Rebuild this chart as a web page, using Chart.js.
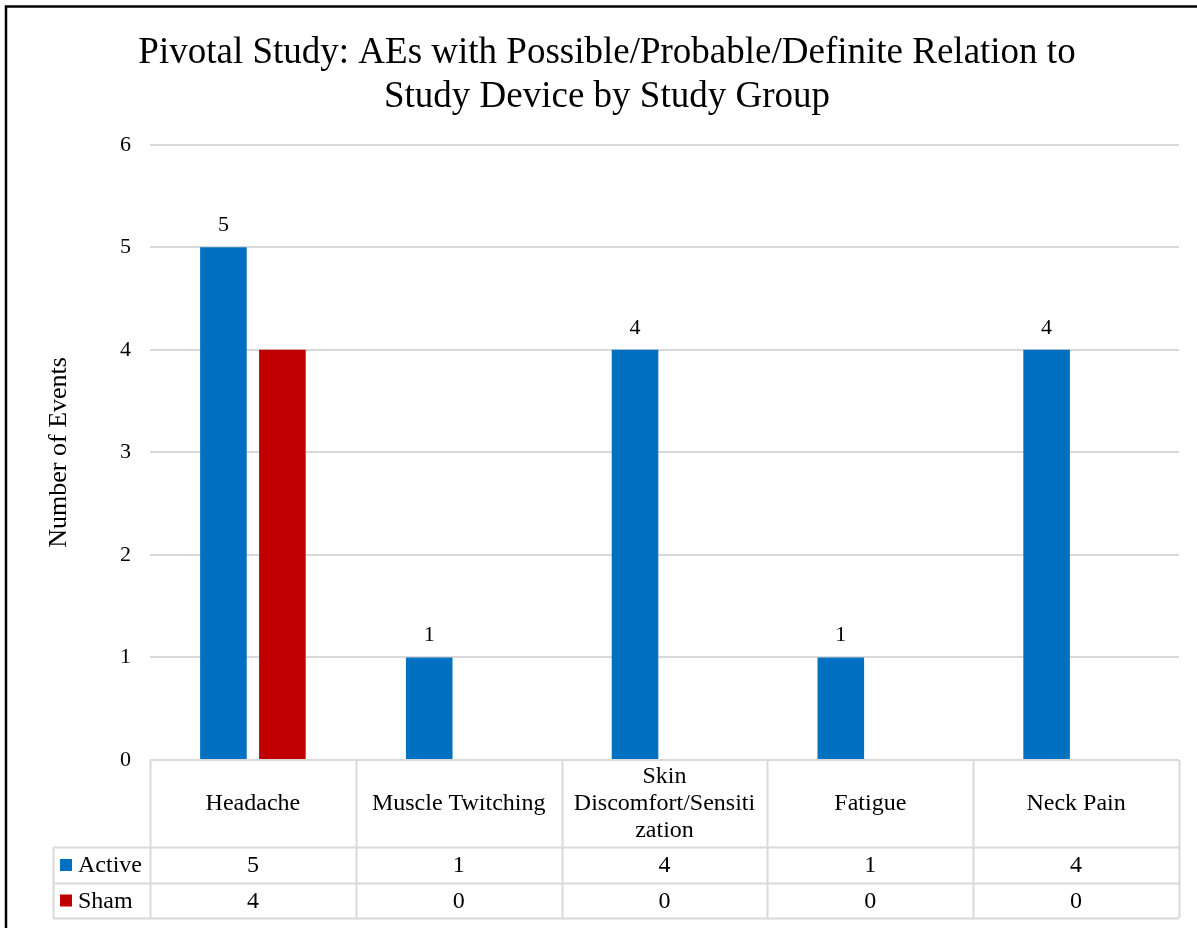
<!DOCTYPE html>
<html><head><meta charset="utf-8">
<script src="https://cdn.jsdelivr.net/npm/chart.js@4"></script>
<style>html,body{margin:0;padding:0;background:#fff}#wrap{width:1197px;height:928px;position:relative}canvas{display:block}</style>
</head><body><div id="wrap"><canvas id="c" width="1197" height="928"></canvas></div>
<script>
const categories = ['Headache', 'Muscle Twitching', ['Skin', 'Discomfort/Sensiti', 'zation'], 'Fatigue', 'Neck Pain'];
const seriesNames = ['Active', 'Sham'];
const activeValues = [5, 1, 4, 1, 4];
const shamValues = [4, 0, 0, 0, 0];
const yMin = 0, yMax = 6, yStep = 1;
const titleLines = ['Pivotal Study: AEs with Possible/Probable/Definite Relation to', 'Study Device by Study Group'];
const yAxisTitle = 'Number of Events';

const BLUE = '#0070C0', RED = '#C00000', GRID = '#d9d9d9';
const SERIF = "'Liberation Serif', 'Times New Roman', serif";

const tablePlugin = {
  id: 'tablePlugin',
  afterDatasetsDraw(chart) {
    const ctx = chart.ctx;
    const x = chart.scales.x;
    const ca = chart.chartArea;
    const n = categories.length;
    const cw = (ca.right - ca.left) / n;
    // data labels for Active
    const meta = chart.getDatasetMeta(0);
    ctx.save();
    ctx.fillStyle = '#000';
    ctx.font = '22px ' + SERIF;
    ctx.textAlign = 'center';
    ctx.textBaseline = 'bottom';
    meta.data.forEach((bar, i) => {
      ctx.fillText(String(activeValues[i]), bar.x, bar.y - 11);
    });
    ctx.restore();

    // table
    const top = ca.bottom;
    const hdrBottom = top + 87;
    const row1Bottom = hdrBottom + 36;
    const row2Bottom = row1Bottom + 35;
    const legendLeft = 53;
    ctx.save();
    ctx.strokeStyle = GRID;
    ctx.lineWidth = 2;
    ctx.beginPath();
    for (let i = 0; i <= n; i++) {
      const px = Math.round(ca.left + i * cw) + 0.5;
      ctx.moveTo(px, top); ctx.lineTo(px, row2Bottom);
    }
    [hdrBottom, row1Bottom, row2Bottom].forEach(yy => {
      ctx.moveTo(legendLeft, yy + 0.5); ctx.lineTo(ca.right, yy + 0.5);
    });
    ctx.moveTo(legendLeft + 0.5, hdrBottom); ctx.lineTo(legendLeft + 0.5, row2Bottom);
    ctx.stroke();

    ctx.fillStyle = '#000';
    ctx.font = '24px ' + SERIF;
    ctx.textAlign = 'center';
    ctx.textBaseline = 'middle';
    categories.forEach((c, i) => {
      const cx = x.getPixelForValue(i);
      const lines = Array.isArray(c) ? c : [c];
      const lh = 27;
      const cy = (top + hdrBottom) / 2;
      lines.forEach((ln, k) => {
        ctx.fillText(ln, cx, cy + (k - (lines.length - 1) / 2) * lh);
      });
      ctx.fillText(String(activeValues[i]), cx, (hdrBottom + row1Bottom) / 2 + 1);
      ctx.fillText(String(shamValues[i]), cx, (row1Bottom + row2Bottom) / 2 + 1);
    });
    // legend keys
    const rows = [[seriesNames[0], BLUE, (hdrBottom + row1Bottom) / 2], [seriesNames[1], RED, (row1Bottom + row2Bottom) / 2]];
    rows.forEach(([name, col, cy]) => {
      ctx.fillStyle = col;
      ctx.fillRect(60, cy - 6, 12, 12);
      ctx.fillStyle = '#000';
      ctx.textAlign = 'left';
      ctx.fillText(name, 78, cy + 1);
    });
    ctx.restore();
  },
  afterDraw(chart) {
    const ctx = chart.ctx;
    ctx.save();
    ctx.strokeStyle = '#000';
    ctx.lineWidth = 2.5;
    ctx.beginPath();
    ctx.moveTo(6, 928); ctx.lineTo(6, 6.5); ctx.lineTo(1197, 6.5);
    ctx.stroke();
    ctx.restore();
  }
};

new Chart(document.getElementById('c'), {
  type: 'bar',
  data: {
    labels: categories,
    datasets: [
      { label: seriesNames[0], data: activeValues, backgroundColor: BLUE, barPercentage: 0.79, categoryPercentage: 0.573 },
      { label: seriesNames[1], data: shamValues, backgroundColor: RED, barPercentage: 0.79, categoryPercentage: 0.573 }
    ]
  },
  options: {
    responsive: false,
    animation: false,
    devicePixelRatio: 1,
    layout: { padding: { top: 0, left: 35, right: 18, bottom: 168 } },
    plugins: {
      legend: { display: false },
      tooltip: { enabled: false },
      title: {
        display: true,
        text: titleLines,
        color: '#000',
        font: { family: SERIF, size: 37, weight: 'normal', lineHeight: 1.2 },
        padding: { top: 31, bottom: 25 }
      }
    },
    scales: {
      x: { display: false },
      y: {
        min: yMin, max: yMax,
        afterFit(scale) { scale.width = 115; },
        ticks: { stepSize: yStep, color: '#000', padding: 19, font: { family: SERIF, size: 22 } },
        grid: { color: GRID, lineWidth: 2, drawTicks: false },
        border: { display: false },
        title: { display: true, text: yAxisTitle, color: '#000', font: { family: SERIF, size: 26 }, padding: { top: 9, bottom: 0 } }
      }
    }
  },
  plugins: [tablePlugin]
});
</script>
</body></html>
